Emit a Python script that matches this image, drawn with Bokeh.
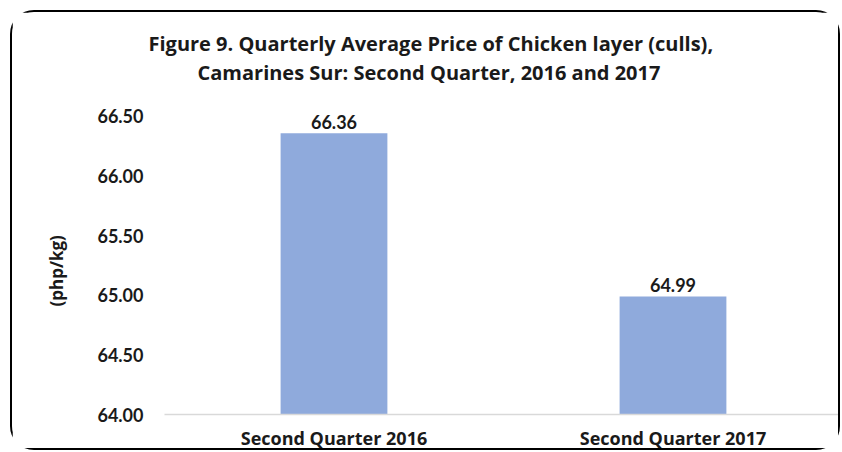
from bokeh.plotting import figure
from bokeh.models import FixedTicker, Title, Range1d, ColumnDataSource, NumeralTickFormatter
from bokeh.core.properties import value
from bokeh.embed import file_html
from bokeh.resources import INLINE

categories = ["Second Quarter 2016", "Second Quarter 2017"]
prices = [66.36, 64.99]
price_labels = ["66.36", "64.99"]
yticks = [64.0, 64.5, 65.0, 65.5, 66.0, 66.5]
title1 = "Figure 9. Quarterly Average Price of Chicken  layer (culls),"
title2 = "Camarines Sur: Second Quarter, 2016 and 2017"
ylabel = "(php/kg)"

NUMFONT = "Lato"
FONT = "Open Sans"
TXT = "#1a1a1a"

src = ColumnDataSource(dict(cat=categories, val=prices, lab=price_labels))

p = figure(x_range=categories, y_range=Range1d(64.0, 66.76),
           width=830, height=440, output_backend="svg", toolbar_location=None,
           min_border_left=152, min_border_right=0, min_border_bottom=30, min_border_top=73,
           styles={"border": "2px solid black", "border-radius": "24px",
                   "margin-left": "10px", "margin-top": "10px"})

p.title = Title(text=title1, align="left", offset=-16, standoff=0, text_font=FONT,
                text_font_size="20px", text_font_style="bold", text_color=TXT)
p.add_layout(Title(text=title2, align="left", offset=33, standoff=0, text_font=FONT,
                   text_font_size="20px", text_font_style="bold", text_color=TXT), "above")

p.vbar(x="cat", top="val", bottom=64.0, width=0.315, source=src,
       fill_color="#8FAADC", line_color=None)
p.text(x="cat", y="val", text="lab", source=src, text_align="center",
       text_baseline="bottom", y_offset=-4, text_font=value(NUMFONT),
       text_font_size="18px", text_font_style="bold", text_color=TXT)

p.xgrid.grid_line_color = None
p.ygrid.grid_line_color = None
p.outline_line_color = None
p.background_fill_color = "white"

p.yaxis.ticker = FixedTicker(ticks=yticks)
p.yaxis.formatter = NumeralTickFormatter(format="0.00")
p.yaxis.axis_line_color = None
p.yaxis.major_tick_line_color = None
p.yaxis.minor_tick_line_color = None
p.yaxis.major_label_standoff = 15
p.yaxis.major_label_text_font = NUMFONT
p.yaxis.major_label_text_font_size = "18px"
p.yaxis.major_label_text_font_style = "bold"
p.yaxis.major_label_text_color = TXT

p.xaxis.axis_line_color = "#d9d9d9"
p.xaxis.axis_line_width = 1.5
p.xaxis.major_tick_line_color = None
p.xaxis.minor_tick_line_color = None
p.xaxis.major_label_standoff = 5
p.xaxis.major_label_text_font = FONT
p.xaxis.major_label_text_font_size = "18px"
p.xaxis.major_label_text_font_style = "bold"
p.xaxis.major_label_text_color = TXT
p.x_range.range_padding = 0.0

p.add_layout(Title(text=ylabel, align="left", offset=108, standoff=53, text_font=FONT,
                   text_font_size="17px", text_font_style="bold", text_color=TXT), "left")

open("out.html", "w").write(file_html(p, INLINE))
